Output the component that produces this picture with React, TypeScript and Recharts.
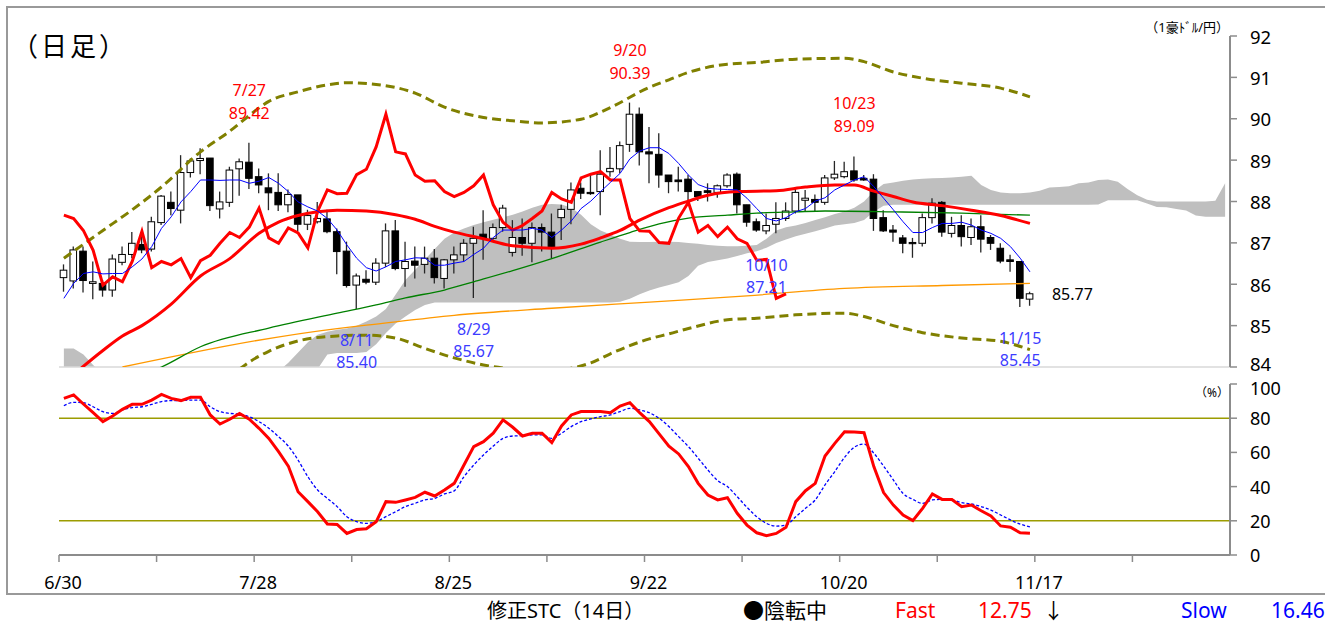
import React from 'react';
import { ComposedChart, Line, Area, Bar, XAxis, YAxis, ReferenceLine, ReferenceDot } from 'recharts';

const FONT = "'Noto Sans', 'Noto Sans CJK JP', sans-serif";
const SLOTS = 120;

// x-axis labels, one every 20 trading days
const DATE_LABELS = ['6/30', '7/28', '8/25', '9/22', '10/20', '11/17'];
const PRICE_TICKS = [84, 85, 86, 87, 88, 89, 90, 91, 92];
const PCT_TICKS = [0, 20, 40, 60, 80, 100];

// daily candles (slot 0 = 6/30)
const OPEN = [
  86.16, 86.08, 86.8, 86.02, 86.02, 85.86, 86.53, 86.72, 86.96, 86.85,
  87.49, 87.98, 87.79, 88.7, 88.99, 89.05, 87.82, 87.98, 88.79, 88.95,
  88.6, 88.33, 88.22, 87.92, 88.16, 87.45, 87.51, 87.58, 87.27, 86.8,
  85.98, 86.12, 86.05, 86.51, 87.29, 86.38, 86.56, 86.48, 86.63, 86.14,
  86.59, 86.71, 86.99, 87.21, 87.11, 87.37, 86.77, 87.13, 86.99, 87.37,
  87.26, 87.61, 87.81, 88.32, 88.22, 88.24, 88.72, 88.79, 89.38, 90.11,
  89.2, 89.14, 88.64, 88.52, 88.54, 88.24, 88.26, 88.22, 88.38, 88.66,
  87.92, 87.51, 87.29, 87.45, 87.59, 87.77, 88.03, 88.05, 87.98, 88.57,
  88.6, 88.74, 88.56, 88.54, 87.61, 87.31, 87.12, 87.01, 86.99, 87.61,
  87.98, 87.23, 87.42, 87.13, 87.39, 87.13, 86.87, 86.59, 86.55, 85.64,
];
const HIGH = [
  86.48, 86.91, 86.91, 86.55, 86.1, 86.72, 86.91, 87.26, 87.27, 87.63,
  88.16, 88.24, 89.12, 89.04, 89.29, 89.05, 88.24, 88.84, 89.04, 89.42,
  88.8, 88.68, 88.68, 88.29, 88.16, 87.8, 87.99, 87.8, 87.35, 87.03,
  86.26, 86.34, 86.63, 87.47, 87.55, 87.03, 86.91, 86.91, 86.85, 86.61,
  86.91, 87.09, 87.39, 87.79, 87.47, 87.92, 87.55, 87.59, 87.49, 87.47,
  87.71, 87.92, 88.46, 88.46, 88.64, 89.24, 89.32, 89.45, 90.39, 90.27,
  89.8, 89.65, 88.64, 88.84, 88.64, 88.24, 88.44, 88.41, 88.68, 88.7,
  87.92, 87.59, 87.71, 87.98, 87.98, 88.32, 88.28, 88.17, 88.64, 88.98,
  88.96, 89.09, 88.64, 88.66, 87.79, 87.43, 87.19, 87.12, 87.71, 88.08,
  88.01, 87.63, 87.67, 87.59, 87.67, 87.19, 86.99, 86.71, 86.56, 85.82,
];
const LOW = [
  85.82, 85.9, 85.8, 85.64, 85.7, 85.7, 86.46, 86.63, 86.75, 86.79,
  87.43, 87.67, 87.47, 88.58, 88.66, 87.77, 87.59, 87.87, 88.14, 88.3,
  88.2, 87.79, 87.77, 87.74, 87.29, 87.31, 87.47, 87.23, 86.24, 85.92,
  85.4, 86.0, 85.98, 86.42, 86.34, 85.94, 86.14, 86.26, 86.02, 85.9,
  86.26, 86.55, 85.67, 86.59, 87.03, 87.27, 86.67, 86.69, 86.53, 86.79,
  86.63, 87.07, 87.45, 88.06, 88.16, 87.67, 88.6, 88.68, 89.2, 88.87,
  88.44, 88.33, 88.2, 88.24, 88.01, 88.01, 88.0, 88.09, 88.33, 87.71,
  87.39, 87.27, 87.21, 87.23, 87.53, 87.71, 87.75, 87.75, 87.92, 88.52,
  88.56, 88.48, 88.5, 87.29, 87.26, 87.03, 86.75, 86.64, 86.91, 87.47,
  87.15, 87.13, 86.91, 86.95, 86.77, 86.83, 86.51, 86.3, 85.45, 85.48,
];
const CLOSE = [
  86.34, 86.83, 86.09, 86.06, 85.86, 86.61, 86.72, 86.99, 86.83, 87.51,
  88.13, 87.83, 88.7, 88.98, 89.04, 87.9, 87.99, 88.76, 88.96, 88.56,
  88.4, 88.21, 87.92, 88.17, 87.45, 87.66, 87.59, 87.27, 86.79, 85.97,
  86.2, 86.05, 86.51, 87.29, 86.38, 86.55, 86.46, 86.63, 86.16, 86.59,
  86.71, 86.99, 87.11, 87.11, 87.37, 87.84, 87.13, 86.99, 87.37, 87.26,
  86.88, 87.81, 88.28, 88.2, 88.19, 88.66, 88.8, 89.35, 90.11, 89.2,
  89.15, 88.64, 88.48, 88.48, 88.24, 88.12, 88.22, 88.38, 88.64, 87.92,
  87.5, 87.31, 87.42, 87.59, 87.77, 88.22, 88.08, 87.98, 88.57, 88.66,
  88.72, 88.52, 88.52, 87.59, 87.29, 87.26, 86.99, 86.98, 87.61, 87.96,
  87.26, 87.42, 87.15, 87.39, 87.09, 86.99, 86.56, 86.55, 85.66, 85.77,
];

// 5-day moving average (thin blue)
const MA5 = [
  85.66, 86.02, 86.26, 86.3, 86.25, 86.26, 86.26, 86.42, 86.61, 86.91,
  87.35, 87.63, 87.99, 88.24, 88.52, 88.52, 88.51, 88.52, 88.52, 88.44,
  88.49, 88.58, 88.44, 88.24, 87.99, 87.87, 87.77, 87.59, 87.31, 86.95,
  86.63, 86.4, 86.32, 86.42, 86.55, 86.59, 86.64, 86.63, 86.46, 86.46,
  86.51, 86.55, 86.72, 86.87, 87.13, 87.31, 87.31, 87.31, 87.35, 87.31,
  87.13, 87.31, 87.53, 87.83, 88.01, 88.24, 88.46, 88.68, 89.03, 89.22,
  89.3, 89.3, 89.16, 88.92, 88.64, 88.41, 88.32, 88.3, 88.29, 88.28,
  88.08, 87.83, 87.59, 87.53, 87.61, 87.75, 87.83, 88.01, 88.09, 88.28,
  88.4, 88.52, 88.6, 88.36, 88.08, 87.8, 87.51, 87.25, 87.25, 87.37,
  87.47, 87.47, 87.5, 87.43, 87.31, 87.23, 87.11, 86.91, 86.63, 86.3,
];

// lagging span (thick red, jagged)
const CHIKOU = [
  87.67, 87.59, 87.3, 86.82, 85.98, 86.18, 86.06, 86.55, 87.28, 86.4,
  86.55, 86.47, 86.62, 86.16, 86.57, 86.7, 86.99, 87.25, 87.13, 87.38,
  87.84, 87.12, 86.99, 87.36, 87.24, 86.88, 87.76, 88.28, 88.19, 88.2,
  88.65, 88.78, 89.32, 90.11, 89.2, 89.15, 88.64, 88.49, 88.5, 88.24,
  88.12, 88.22, 88.38, 88.64, 87.92, 87.5, 87.31, 87.42, 87.59, 87.77,
  88.22, 88.06, 87.98, 88.57, 88.66, 88.72, 88.52, 88.52, 87.59, 87.29,
  87.28, 87.01, 86.99, 87.6, 87.98, 87.26, 87.42, 87.15, 87.38, 87.1,
  86.99, 86.58, 86.6, 85.66, 85.77,
];

// smooth averages and bands, read as [slot, value]
const MA25 = [
  [1, 83.82], [4, 84.4], [6, 84.75], [8, 85.0], [11, 85.52], [14, 86.2], [17, 86.62], [20, 87.23],
  [22, 87.5], [24, 87.66], [26, 87.75], [28, 87.79], [31, 87.77], [34, 87.68], [36, 87.57], [38, 87.4],
  [40, 87.26], [43, 87.1], [46, 86.93], [50, 86.87], [53, 86.97], [55, 87.12], [57, 87.3], [59, 87.55],
  [62, 87.85], [64, 88.01], [66, 88.15], [69, 88.24], [73, 88.26], [76, 88.35], [79, 88.4], [81, 88.4],
  [83, 88.25], [85, 88.12], [87, 87.99], [90, 87.9], [93, 87.79], [96, 87.66], [99, 87.47],
];
const MA75 = [
  [9, 83.9], [10, 84.0], [14, 84.49], [21, 84.94], [28, 85.3], [32, 85.5], [35, 85.67], [39, 85.86],
  [42, 86.06], [46, 86.33], [50, 86.62], [55, 87.02], [58, 87.25], [61, 87.46], [64, 87.6], [68, 87.67],
  [71, 87.72], [75, 87.75], [78, 87.77], [85, 87.75], [92, 87.72], [96, 87.69], [99, 87.67],
];
const MA200 = [
  [6, 84.0], [28, 84.93], [31, 85.01], [40, 85.25], [50, 85.42], [60, 85.57], [70, 85.72], [80, 85.9],
  [90, 85.97], [99, 86.02],
];
const BB_UPPER = [
  [0, 86.63], [4, 87.3], [7, 87.8], [10, 88.35], [14, 89.2], [17, 89.7], [19, 90.08], [21, 90.42],
  [24, 90.65], [27, 90.82], [29, 90.87], [32, 90.83], [36, 90.62], [39, 90.28], [43, 90.03], [46, 89.95],
  [49, 89.9], [53, 89.99], [56, 90.27], [60, 90.76], [62, 90.94], [64, 91.12], [68, 91.32], [71, 91.36],
  [75, 91.44], [80, 91.46], [82, 91.38], [85, 91.13], [88, 90.98], [92, 90.86], [96, 90.74], [99, 90.53],
];
const BB_LOWER = [
  [18, 83.95], [19, 84.12], [21, 84.38], [24, 84.63], [28, 84.75], [31, 84.77], [34, 84.7], [37, 84.45],
  [40, 84.22], [43, 84.05], [46, 83.95], [49, 83.9], [52, 83.97], [54, 84.1], [56, 84.32], [60, 84.68],
  [62, 84.8], [64, 84.93], [68, 85.14], [71, 85.18], [75, 85.26], [80, 85.3], [82, 85.22], [85, 85.0],
  [88, 84.83], [92, 84.7], [96, 84.62], [99, 84.42],
];

// ichimoku cloud edges, slot 0..119
const CLOUD_HI = [
  84.45, 84.45, 84.3, 84.05, 83.8, 83.6, 83.6, 83.6, 83.6, 83.6,
  83.6, 83.6, 83.6, 83.6, 83.6, 83.6, 83.6, 83.6, 83.6, 83.6,
  83.6, 83.6, 83.9, 84.1, 84.35, 84.6, 84.78, 84.85, 84.9, 84.93,
  85.0, 85.1, 85.22, 85.4, 85.75, 86.1, 86.35, 86.6, 86.85, 87.1,
  87.25, 87.35, 87.43, 87.5, 87.56, 87.62, 87.68, 87.76, 87.85, 87.92,
  87.94, 87.93, 87.85, 87.68, 87.45, 87.3, 87.2, 87.1, 87.03, 87.02,
  87.02, 87.03, 87.03, 87.02, 87.0, 86.98, 86.95, 86.93, 86.92, 86.92,
  86.93, 86.95, 87.1, 87.3, 87.38, 87.42, 87.48, 87.55, 87.62, 87.7,
  87.76, 87.85, 88.0, 88.25, 88.42, 88.46, 88.5, 88.53, 88.55, 88.56,
  88.57, 88.58, 88.6, 88.62, 88.4, 88.28, 88.22, 88.2, 88.2, 88.22,
  88.26, 88.34, 88.35, 88.37, 88.44, 88.46, 88.52, 88.53, 88.48, 88.3,
  88.15, 88.04, 88.0, 88.0, 88.0, 88.0, 88.0, 88.0, 88.02, 88.44,
];
const CLOUD_LO = [
  83.6, 83.6, 83.6, 83.6, 83.3, 83.3, 83.3, 83.3, 83.3, 83.3,
  83.3, 83.3, 83.3, 83.3, 83.3, 83.3, 83.3, 83.3, 83.3, 83.3,
  83.3, 83.3, 83.5, 83.6, 83.7, 83.8, 83.95, 84.3, 84.34, 84.34,
  84.34, 84.36, 84.55, 84.82, 85.05, 85.22, 85.38, 85.5, 85.56, 85.56,
  85.56, 85.56, 85.56, 85.56, 85.56, 85.56, 85.56, 85.56, 85.56, 85.56,
  85.56, 85.56, 85.56, 85.56, 85.56, 85.56, 85.56, 85.58, 85.65, 85.76,
  85.85, 85.92, 85.98, 86.05, 86.2, 86.45, 86.54, 86.58, 86.62, 86.68,
  86.75, 86.8, 86.88, 87.0, 87.08, 87.16, 87.22, 87.28, 87.35, 87.42,
  87.45, 87.48, 87.55, 87.75, 87.9, 87.92, 87.92, 87.92, 87.92, 87.92,
  87.92, 87.92, 87.92, 87.92, 87.92, 87.92, 87.92, 87.92, 87.92, 87.92,
  87.92, 87.92, 87.92, 87.92, 87.92, 87.92, 87.93, 88.03, 88.03, 88.03,
  88.03, 87.95, 87.87, 87.86, 87.82, 87.78, 87.66, 87.63, 87.63, 87.63,
];

// modified stochastics (14 days)
const FAST = [
  91.6, 93.6, 88.3, 83.2, 78.0, 81.3, 85.2, 88.1, 88.1, 90.6,
  93.9, 91.6, 90.3, 92.2, 92.2, 81.9, 76.6, 79.4, 82.8, 79.4,
  74.1, 68.2, 60.4, 52.0, 37.0, 31.2, 25.3, 18.1, 17.9, 12.6,
  14.9, 15.3, 19.4, 31.2, 30.8, 32.2, 33.7, 36.7, 34.5, 38.0,
  41.9, 52.6, 63.4, 66.3, 71.2, 79.0, 74.7, 69.6, 71.2, 71.2,
  65.7, 75.5, 81.9, 83.9, 83.9, 83.9, 83.2, 87.1, 89.1, 83.2,
  78.0, 70.8, 63.7, 59.1, 51.7, 41.9, 35.1, 32.2, 33.5, 24.4,
  17.5, 13.0, 11.3, 12.6, 16.2, 31.2, 37.6, 41.9, 57.9, 65.3,
  72.1, 71.9, 71.5, 51.7, 36.5, 29.2, 23.4, 20.1, 27.3, 35.7,
  32.5, 32.5, 28.3, 29.2, 25.9, 22.8, 17.0, 16.2, 13.0, 12.75,
];
const SLOW = [
  87.3, 89.3, 89.1, 86.7, 83.8, 82.8, 84.8, 86.2, 86.7, 88.1,
  89.7, 90.3, 90.3, 90.6, 90.6, 86.7, 83.8, 82.8, 82.4, 80.8,
  78.0, 74.1, 69.2, 63.7, 55.5, 45.8, 38.0, 33.1, 28.3, 22.4,
  19.5, 18.5, 19.5, 22.4, 25.3, 28.3, 30.2, 32.2, 33.1, 35.7,
  37.5, 45.8, 52.6, 58.5, 63.7, 68.2, 69.6, 69.8, 70.2, 70.2,
  68.2, 71.2, 75.1, 78.0, 79.6, 80.9, 81.9, 83.9, 85.8, 84.8,
  83.2, 79.9, 75.1, 69.2, 63.4, 56.6, 49.7, 43.5, 40.0, 34.1,
  27.9, 22.4, 18.5, 16.9, 17.5, 22.4, 27.3, 32.2, 41.0, 48.8,
  57.1, 63.0, 64.9, 59.5, 52.0, 43.9, 36.0, 32.5, 30.2, 32.2,
  32.5, 32.2, 30.6, 29.9, 28.3, 26.3, 23.4, 20.5, 18.1, 16.46,
];

const PEAKS = [
  { slot: 19, date: '7/27', price: 89.42 },
  { slot: 58, date: '9/20', price: 90.39 },
  { slot: 81, date: '10/23', price: 89.09 },
];
const TROUGHS = [
  { slot: 30, date: '8/11', price: 85.4 },
  { slot: 42, date: '8/29', price: 85.67 },
  { slot: 72, date: '10/10', price: 87.21 },
  { slot: 98, date: '11/15', price: 85.45 },
];

const lookup = (pairs: number[][]) => new Map(pairs.map(([s, v]) => [s, v]));
const ma25 = lookup(MA25);
const ma75 = lookup(MA75);
const ma200 = lookup(MA200);
const bbU = lookup(BB_UPPER);
const bbL = lookup(BB_LOWER);

const priceRows = Array.from({ length: SLOTS }, (_, i) => ({
  x: i + 0.5,
  open: OPEN[i],
  high: HIGH[i],
  low: LOW[i],
  close: CLOSE[i],
  range: i < CLOSE.length ? [LOW[i], HIGH[i]] : null,
  ma5: MA5[i] ?? null,
  ma25: ma25.get(i) ?? null,
  ma75: ma75.get(i) ?? null,
  ma200: ma200.get(i) ?? null,
  bbU: bbU.get(i) ?? null,
  bbL: bbL.get(i) ?? null,
  chikou: CHIKOU[i] ?? null,
  cloud: [CLOUD_LO[i], CLOUD_HI[i]],
}));

const stcRows = FAST.map((f, i) => ({ x: i + 0.5, fast: f, slow: SLOW[i] }));

const X_TICKS = Array.from({ length: 12 }, (_, k) => k * 10);

const Candle = (props: any) => {
  const { x, y, width, height, payload } = props;
  if (payload == null || payload.range == null) return null;
  const { open, close, high, low } = payload;
  const top = Math.min(y, y + height);
  const bot = Math.max(y, y + height);
  const py = (v: number) => top + ((high - v) / (high - low || 1)) * (bot - top);
  const cx = x + width / 2;
  const bTop = py(Math.max(open, close));
  const bBot = py(Math.min(open, close));
  const up = close >= open;
  return (
    <g>
      <line x1={cx} x2={cx} y1={top} y2={bot} stroke="#262626" strokeWidth={1.3} />
      <rect
        x={cx - 3.3}
        y={bTop}
        width={6.6}
        height={Math.max(bBot - bTop, 1.2)}
        fill={up ? '#ffffff' : '#000000'}
        stroke="#000"
        strokeWidth={1}
      />
    </g>
  );
};

const note = (lines: string[], color: string, offsets: number[]) => (p: any) => (
  <g>
    {lines.map((t, k) => (
      <text
        key={k}
        x={p.cx}
        y={p.cy + offsets[k]}
        textAnchor="middle"
        dominantBaseline="central"
        fontSize={16}
        fontFamily={FONT}
        fill={color}
      >
        {t}
      </text>
    ))}
  </g>
);

const lastLabel = (p: any) => (
  <text x={p.cx + 22} y={p.cy} dominantBaseline="central" fontSize={16} fontFamily={FONT} fill="#000">
    {CLOSE[CLOSE.length - 1].toFixed(2)}
  </text>
);

const DateTick = (p: any) => {
  const k = p.payload.value / 20;
  const label = Number.isInteger(k) ? DATE_LABELS[k] ?? '' : '';
  return (
    <text x={p.x + 4} y={p.y + 18} textAnchor="middle" dominantBaseline="central" fontSize={18} fontFamily={FONT} fill="#000">
      {label}
    </text>
  );
};

// right-hand value labels; the two that meet between the panels are nudged apart
const ValueTick = (nudge: Record<number, number>, size: number) => (p: any) => (
  <text
    x={p.x}
    y={p.y + (nudge[p.payload.value] ?? 0)}
    textAnchor="start"
    dominantBaseline="central"
    fontSize={size}
    fontFamily={FONT}
    fill="#000"
  >
    {p.payload.value}
  </text>
);

export default function App() {
  const axisGray = '#8c8c8c';
  const lastFast = FAST[FAST.length - 1];
  const lastSlow = SLOW[SLOW.length - 1];
  return (
    <div style={{ position: 'absolute', left: 0, top: 0, width: 1325, height: 624, background: '#fff', overflow: 'hidden', fontFamily: FONT }}>
      <div style={{ position: 'absolute', left: 6, top: 6, width: 1340, height: 589, border: '2px solid #999', boxSizing: 'border-box' }} />

      <div style={{ position: 'absolute', left: 0, top: 0 }}>
        <ComposedChart width={1325} height={380} data={priceRows} margin={{ top: 36, right: 35, bottom: 13, left: 59 }}>
          <XAxis dataKey="x" type="number" domain={[0, SLOTS]} hide />
          <YAxis
            orientation="right"
            domain={[84, 92]}
            ticks={PRICE_TICKS}
            allowDataOverflow
            width={60}
            axisLine={{ stroke: axisGray, strokeWidth: 2 }}
            tickLine={{ stroke: axisGray, strokeWidth: 1.5 }}
            tickSize={7}
            tickMargin={13}
            tick={ValueTick({ 84: -4 }, 18.5)}
          />
          <ReferenceLine y={84} stroke="#d9d9d9" strokeWidth={1.5} />
          <Area dataKey="cloud" stroke="none" fill="#bfbfbf" fillOpacity={1} isAnimationActive={false} />
          <Bar dataKey="range" barSize={7} shape={Candle} isAnimationActive={false} />
          <Line dataKey="ma200" type="monotone" stroke="#ff9900" strokeWidth={1.3} dot={false} activeDot={false} connectNulls isAnimationActive={false} />
          <Line dataKey="ma75" type="monotone" stroke="#008000" strokeWidth={1.3} dot={false} activeDot={false} connectNulls isAnimationActive={false} />
          <Line dataKey="bbU" type="monotone" stroke="#808000" strokeWidth={3} strokeDasharray="9 5" dot={false} activeDot={false} connectNulls isAnimationActive={false} />
          <Line dataKey="bbL" type="monotone" stroke="#808000" strokeWidth={3} strokeDasharray="9 5" dot={false} activeDot={false} connectNulls isAnimationActive={false} />
          <Line dataKey="ma25" type="monotone" stroke="#ff0000" strokeWidth={3} dot={false} activeDot={false} connectNulls isAnimationActive={false} />
          <Line dataKey="chikou" type="linear" stroke="#ff0000" strokeWidth={3} dot={false} activeDot={false} isAnimationActive={false} />
          <Line dataKey="ma5" type="linear" stroke="#0000ff" strokeWidth={1} dot={false} activeDot={false} isAnimationActive={false} />
          {PEAKS.map((n) => (
            <ReferenceDot key={n.date} x={n.slot + 0.5} y={n.price} r={0} shape={note([n.date, n.price.toFixed(2)], '#ff0000', [-53, -30])} />
          ))}
          {TROUGHS.map((n) => (
            <ReferenceDot key={n.date} x={n.slot + 0.5} y={n.price} r={0} shape={note([n.date, n.price.toFixed(2)], '#3c3cff', [31, 53])} />
          ))}
          <ReferenceDot x={CLOSE.length - 0.5} y={CLOSE[CLOSE.length - 1]} r={0} shape={lastLabel} />
        </ComposedChart>
      </div>

      <div style={{ position: 'absolute', left: 0, top: 370 }}>
        <ComposedChart width={1325} height={254} data={stcRows} margin={{ top: 14, right: 35, bottom: 29, left: 59 }}>
          <XAxis
            dataKey="x"
            type="number"
            domain={[0, SLOTS]}
            ticks={X_TICKS}
            interval={0}
            height={40}
            axisLine={{ stroke: axisGray, strokeWidth: 2 }}
            tickLine={{ stroke: axisGray, strokeWidth: 1.5 }}
            tickSize={7}
            tick={<DateTick />}
          />
          <YAxis
            orientation="right"
            domain={[0, 100]}
            ticks={PCT_TICKS}
            width={60}
            axisLine={{ stroke: axisGray, strokeWidth: 2 }}
            tickLine={{ stroke: axisGray, strokeWidth: 1.5 }}
            tickSize={7}
            tickMargin={13}
            tick={ValueTick({ 100: 4 }, 18)}
          />
          <ReferenceLine y={80} stroke="#9c9c00" strokeWidth={1.5} />
          <ReferenceLine y={20} stroke="#9c9c00" strokeWidth={1.5} />
          <Line dataKey="slow" type="monotone" stroke="#0000ff" strokeWidth={1.3} strokeDasharray="3 2" dot={false} activeDot={false} isAnimationActive={false} />
          <Line dataKey="fast" type="linear" stroke="#ff0000" strokeWidth={3} dot={false} activeDot={false} isAnimationActive={false} />
        </ComposedChart>
      </div>

      <svg width={1325} height={624} style={{ position: 'absolute', left: 0, top: 0, pointerEvents: 'none' }} fontFamily={FONT}>
        <text x={12} y={46} fontSize={26} letterSpacing={3} dominantBaseline="central" fill="#000">（日足）</text>
        <text x={1229} y={27} fontSize={13} textAnchor="end" dominantBaseline="central" fill="#000">（1豪ﾄﾞﾙ/円）</text>
        <text x={1229} y={392} fontSize={12} textAnchor="end" dominantBaseline="central" fill="#000">（%）</text>
        <text x={487} y={610} fontSize={20} dominantBaseline="central" fill="#000">修正STC（14日）</text>
        <text x={743} y={610} fontSize={21} dominantBaseline="central" fill="#000">●陰転中</text>
        <text x={895} y={610} fontSize={21} dominantBaseline="central" fill="#ff0000">Fast</text>
        <text x={978} y={610} fontSize={21} dominantBaseline="central" fill="#ff0000">{lastFast.toFixed(2)}</text>
        <text x={1043} y={610} fontSize={21} dominantBaseline="central" fill="#000">↓</text>
        <text x={1181} y={610} fontSize={21} dominantBaseline="central" fill="#0000ff">Slow</text>
        <text x={1271} y={610} fontSize={21} dominantBaseline="central" fill="#0000ff">{lastSlow.toFixed(2)}</text>
      </svg>
    </div>
  );
}
